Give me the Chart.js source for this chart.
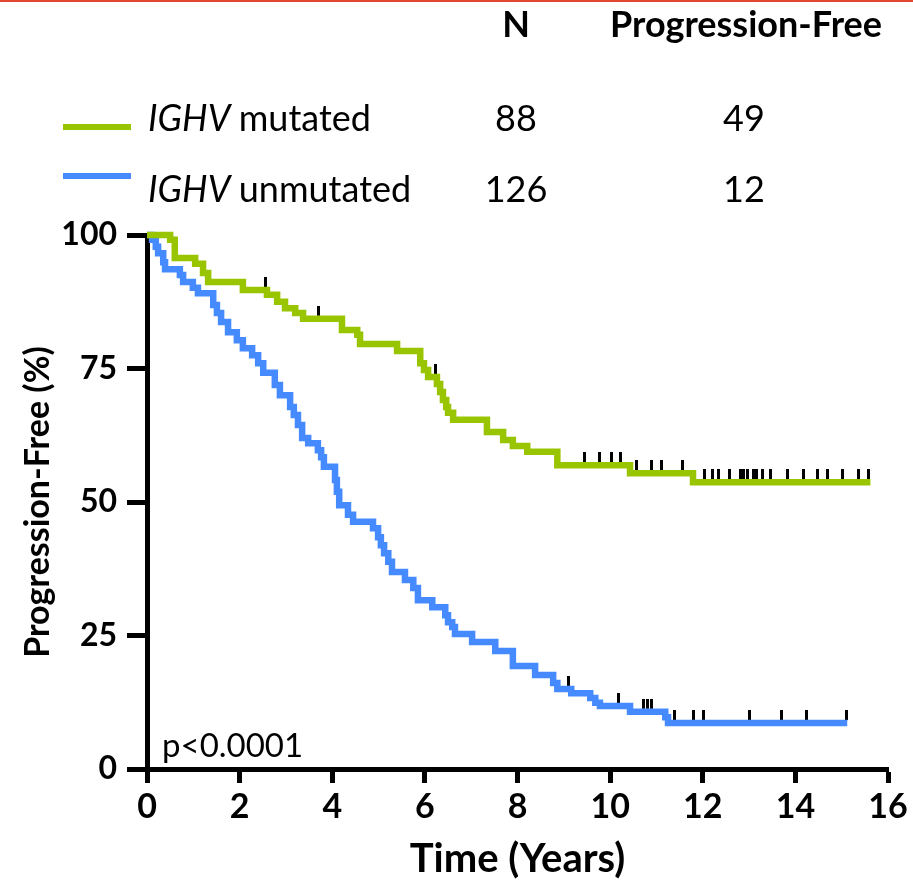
<!DOCTYPE html>
<html lang="en">
<head>
<meta charset="UTF-8">
<title>IGHV - Progression-Free</title>
<script src="https://cdn.jsdelivr.net/npm/chart.js"></script>
<style>
  html, body { margin: 0; padding: 0; background: #fff; }
</style>
</head>
<body>
<canvas id="km" width="913" height="883"></canvas>
<script>
// Kaplan-Meier steps: time of each drop (years) and % progression-free after it.
// the last point is the end of follow-up (no drop)
const mutTimes = [0, 0.50, 0.60, 1.04, 1.21, 1.32, 2.07, 2.59, 2.81, 2.98, 3.20, 3.37, 4.21, 4.54, 4.60,
  5.40, 5.90, 5.98, 6.07, 6.26, 6.33, 6.39, 6.46, 6.50, 6.61, 7.34, 7.69, 7.90, 8.21, 8.86, 10.43, 11.79, 15.62];
const mutSurv = [100, 99.1, 95.7, 94.6, 92.9, 91.2, 89.7, 88.8, 87.5, 86.3, 85.4, 84.3, 82.2, 81.3, 79.6,
  78.3, 76.0, 74.7, 73.4, 72.1, 70.6, 69.1, 67.8, 66.7, 65.4, 63.1, 61.6, 60.5, 59.4, 56.9, 55.4, 53.7, 53.7];
const mutCensor = [2.55, 3.71, 6.22, 9.44, 9.76, 10.04, 10.22, 10.58, 10.89, 11.12, 11.56, 12.03, 12.22, 12.33,
  12.57, 12.81, 12.89, 12.96, 13.09, 13.17, 13.30, 13.46, 13.82, 14.17, 14.47, 14.69, 15.01, 15.36, 15.57];

const unmTimes = [0, 0.11, 0.19, 0.24, 0.35, 0.39, 0.71, 0.78, 0.99, 1.10, 1.43, 1.51, 1.60, 1.75, 1.94,
  2.07, 2.27, 2.40, 2.51, 2.76, 2.87, 3.09, 3.17, 3.26, 3.35, 3.48, 3.69, 3.76, 3.82, 4.06, 4.10, 4.15,
  4.34, 4.45, 4.88, 4.99, 5.05, 5.12, 5.21, 5.29, 5.57, 5.75, 5.85, 6.16, 6.44, 6.50, 6.59, 6.65, 7.02,
  7.52, 7.90, 8.38, 8.77, 8.86, 9.16, 9.57, 9.68, 9.78, 10.43, 11.19, 11.25, 15.12];
const unmSurv = [100, 99.1, 97.8, 96.6, 94.9, 93.6, 92.5, 91.2, 90.1, 89.1, 86.9, 85.4, 83.7, 81.8, 80.3,
  78.8, 77.5, 76.0, 74.2, 71.9, 70.0, 67.8, 66.3, 64.4, 62.0, 61.0, 59.7, 58.4, 56.6, 54.1, 51.9, 49.4,
  47.6, 46.3, 45.1, 43.4, 41.9, 40.4, 38.8, 36.9, 35.4, 33.9, 31.6, 30.3, 28.8, 27.5, 26.6, 25.3, 23.8,
  22.1, 19.3, 17.6, 16.1, 15.0, 14.2, 13.3, 12.4, 11.8, 10.7, 9.7, 8.6, 8.6];
const unmCensor = [9.11, 10.19, 10.71, 10.80, 10.89, 11.40, 11.79, 12.01, 13.00, 13.71, 14.25, 15.10];

// legend table
const groupNames = ['mutated', 'unmutated'];
const groupN = [88, 126];
const groupPF = [49, 12];
const colHeads = ['N', 'Progression-Free'];
const pText = 'p<0.0001';

const xMax = 16, xStep = 2;
const yMax = 100, yStep = 25;

const GREEN = '#99c400';
const BLUE = '#468aff';
const FONT = 'Lato';

function steps(times, surv) {
  return times.map((t, i) => ({ x: t, y: surv[i] }));
}

function survAt(times, surv, t) {
  let v = surv[0];
  for (let i = 0; i < times.length; i++) {
    if (times[i] <= t) v = surv[i];
  }
  return v;
}

function censorPoints(cens, times, surv) {
  return cens.map(t => ({ x: t, y: survAt(times, surv, t) }));
}

// censor mark: short black tick sitting on top of the curve
const tick = document.createElement('canvas');
tick.width = 3;
tick.height = 26;
const tctx = tick.getContext('2d');
tctx.fillStyle = '#000';
tctx.fillRect(0, 0, 3, 10);

const tablePlugin = {
  id: 'tablePlugin',
  afterDraw(chart) {
    const ctx = chart.ctx;
    ctx.save();
    // thin rule along the top
    ctx.fillStyle = '#e4472f';
    ctx.fillRect(0, 0, chart.width, 2);

    ctx.fillStyle = '#000';
    ctx.textBaseline = 'alphabetic';
    ctx.textAlign = 'center';
    ctx.font = 'bold 36px ' + FONT;
    ctx.fillText(colHeads[0], 516, 37);
    ctx.fillText(colHeads[1], 746, 37);

    const lineY = [127, 176];
    const textY = [131, 202];
    const cols = [GREEN, BLUE];
    for (let i = 0; i < groupNames.length; i++) {
      ctx.strokeStyle = cols[i];
      ctx.lineWidth = 6;
      ctx.beginPath();
      ctx.moveTo(63, lineY[i]);
      ctx.lineTo(131, lineY[i]);
      ctx.stroke();

      ctx.textAlign = 'left';
      ctx.font = 'italic 36px ' + FONT;
      ctx.fillText('IGHV', 148, textY[i]);
      const w = ctx.measureText('IGHV ').width;
      ctx.font = '36px ' + FONT;
      ctx.fillText(groupNames[i], 148 + w, textY[i]);

      ctx.textAlign = 'center';
      ctx.fillText(String(groupN[i]), 516, textY[i]);
      ctx.fillText(String(groupPF[i]), 744, textY[i]);
    }

    // p-value inside the plot
    const a = chart.chartArea;
    ctx.textAlign = 'left';
    ctx.font = '33px ' + FONT;
    ctx.fillText(pText, a.left + 15, a.bottom - 12);
    ctx.restore();
  }
};

Chart.defaults.font.family = FONT;
Chart.defaults.color = '#000';

new Chart(document.getElementById('km'), {
  type: 'line',
  data: {
    datasets: [
      {
        label: 'IGHV mutated',
        data: steps(mutTimes, mutSurv),
        borderColor: GREEN,
        borderWidth: 6.5,
        stepped: true,
        pointRadius: 0,
        fill: false,
        clip: false
      },
      {
        label: 'IGHV unmutated',
        data: steps(unmTimes, unmSurv),
        borderColor: BLUE,
        borderWidth: 6.5,
        stepped: true,
        pointRadius: 0,
        fill: false,
        clip: false
      },
      {
        label: 'censored mutated',
        type: 'scatter',
        data: censorPoints(mutCensor, mutTimes, mutSurv),
        pointStyle: tick,
        showLine: false,
        clip: false
      },
      {
        label: 'censored unmutated',
        type: 'scatter',
        data: censorPoints(unmCensor, unmTimes, unmSurv),
        pointStyle: tick,
        showLine: false,
        clip: false
      }
    ]
  },
  options: {
    responsive: false,
    animation: false,
    layout: { padding: { top: 235, right: 25, left: 0, bottom: 0 } },
    plugins: {
      legend: { display: false },
      tooltip: { enabled: false }
    },
    scales: {
      x: {
        type: 'linear',
        min: 0,
        max: xMax,
        afterFit: s => { s.height = 114; },
        border: { color: '#000', width: 5 },
        grid: { drawOnChartArea: false, tickLength: 14, tickWidth: 5, tickColor: '#000' },
        ticks: { stepSize: xStep, padding: 4, font: { size: 34, weight: 'bold' } },
        title: {
          display: true,
          text: 'Time (Years)',
          font: { size: 40, weight: 'bold' },
          padding: { top: 0, bottom: 0 }
        }
      },
      y: {
        min: 0,
        max: yMax,
        afterFit: s => { s.width = 147; },
        border: { color: '#000', width: 5 },
        grid: { drawOnChartArea: false, tickLength: 20, tickWidth: 5, tickColor: '#000' },
        ticks: { stepSize: yStep, padding: 10, font: { size: 32, weight: 'bold' } },
        title: {
          display: true,
          text: 'Progression-Free (%)',
          font: { size: 34, weight: 'bold' },
          padding: { top: 18, bottom: 0 }
        }
      }
    }
  },
  plugins: [tablePlugin]
});
</script>
</body>
</html>
